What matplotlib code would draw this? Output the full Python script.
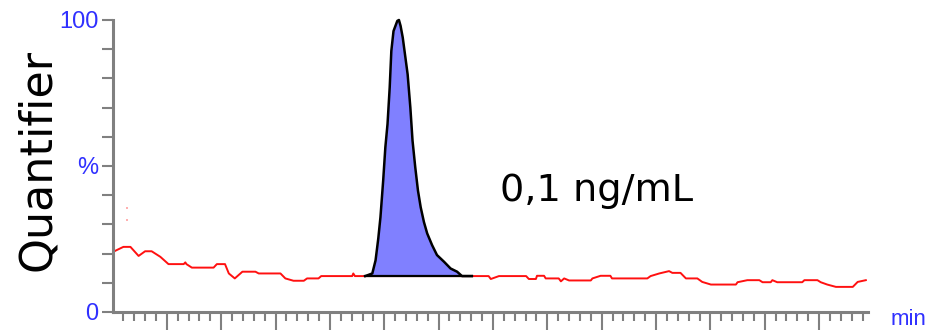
import matplotlib
matplotlib.use("Agg")
import matplotlib.pyplot as plt
import numpy as np

# ---- data (time in arbitrary minute units, intensity in %) ----
base_t = [0.00, 0.20, 0.33, 0.48, 0.60, 0.72, 0.88, 1.03, 1.31, 1.34, 1.36, 1.46,
          1.86, 1.92, 2.07, 2.14, 2.25, 2.39, 2.63, 2.69, 3.09, 3.18, 3.33, 3.52,
          3.58, 3.79, 3.84, 4.41, 4.43, 4.46, 4.65, 6.61, 6.92, 6.96, 7.11, 7.61,
          7.66, 7.79, 7.81, 7.94, 7.97, 8.21, 8.25, 8.31, 8.40, 8.80, 8.83, 8.98,
          9.16, 9.19, 9.84, 9.90, 10.06, 10.24, 10.30, 10.45, 10.55, 10.76, 10.85,
          11.01, 11.47, 11.50, 11.68, 11.90, 11.96, 12.11, 12.14, 12.23, 12.69,
          12.73, 12.97, 13.03, 13.15, 13.31, 13.62, 13.71, 13.86]
base_v = [20.5, 22.3, 22.3, 19.2, 20.8, 20.8, 18.9, 16.4, 16.4, 17.0, 16.4, 15.2,
          15.2, 16.4, 16.4, 13.2, 11.5, 13.8, 13.8, 13.2, 13.2, 11.5, 10.7, 10.7,
          11.5, 11.5, 12.3, 12.3, 13.2, 12.3, 12.3, 12.3, 12.3, 11.3, 12.3, 12.3,
          11.3, 11.3, 12.4, 12.4, 11.5, 11.5, 10.5, 11.5, 10.8, 10.8, 11.5, 12.4,
          12.4, 11.5, 11.5, 12.3, 13.2, 14.0, 13.4, 13.4, 11.5, 11.5, 10.3,
          9.4, 9.4, 10.2, 10.9, 10.9, 10.2, 10.2, 10.9, 10.2, 10.2,
          10.9, 10.9, 10.2, 9.4, 8.6, 8.6, 10.3, 10.9]

peak_t = [4.65, 4.78, 4.84, 4.89, 4.93, 4.98, 5.02, 5.06, 5.10, 5.13, 5.17, 5.24,
          5.27, 5.30, 5.34, 5.39, 5.43, 5.48, 5.52, 5.57, 5.62, 5.67, 5.73, 5.79,
          5.88, 5.97, 6.10, 6.22, 6.34, 6.43, 6.61]
peak_v = [12.3, 13.2, 17.7, 25.2, 32.5, 45.0, 56.4, 64.4, 76.9, 89.4, 96.2, 99.7,
          100.0, 98.0, 94.0, 87.0, 81.4, 70.0, 58.7, 49.6, 41.6, 35.9, 30.8, 26.9,
          22.9, 19.5, 17.2, 14.9, 13.8, 12.3, 12.3]
peak_base = 12.3

artifact_t = [0.26, 0.26]
artifact_v = [35.5, 31.4]

ytick_vals = list(range(0, 101, 10))
ytick_labels = ["0", "", "", "", "", "%", "", "", "", "", "100"]
xmajor = list(range(1, 14))
xminor = [round(0.2 * i, 1) for i in range(1, 70) if i % 5 != 0]

sample_label = "0,1 ng/mL"
ylabel = "Quantifier"
xunit = "min"

# ---- figure ----
W, H = 930, 331
fig = plt.figure(figsize=(W / 100, H / 100), dpi=100)
ax = fig.add_axes([112.5 / W, (H - 312) / H, (868 - 112.5) / W, (312 - 20) / H])

grey = "#808080"
blue = "#3030ff"

ax.plot(base_t, base_v, color="#ff1010", lw=1.4, zorder=2)
ax.plot(artifact_t, artifact_v, ls="none", marker="s", ms=1.5, color="#ffb0b0",
        mew=0, zorder=2)

ax.fill_between(peak_t, peak_v, peak_base, color="#8080ff", lw=0, zorder=3,
                clip_on=False)
ax.plot(peak_t, peak_v, color="black", lw=1.8, zorder=4, clip_on=False)
ax.plot([peak_t[0], peak_t[-1]], [peak_base, peak_base], color="black", lw=1.6,
        zorder=4)

ax.set_xlim(0, 13.9)
ax.set_ylim(0, 100)

for s in ["top", "right"]:
    ax.spines[s].set_visible(False)
for s in ["left", "bottom"]:
    ax.spines[s].set_color(grey)
    ax.spines[s].set_linewidth(2.2)

ax.set_yticks(ytick_vals)
ax.set_yticklabels(ytick_labels, color=blue, fontsize=17,
                   fontfamily="Liberation Sans")
ax.tick_params(axis="y", direction="out", length=8, width=1.5, color=grey, pad=2)

ax.set_xticks(xmajor)
ax.set_xticks(xminor, minor=True)
ax.set_xticklabels([])
ax.tick_params(axis="x", which="major", direction="out", length=13, width=1.5,
               color=grey)
ax.tick_params(axis="x", which="minor", direction="out", length=6.5, width=1.5,
               color=grey)

fig.text(38 / W, 1 - 160 / H, ylabel, rotation=90, ha="center", va="center",
         fontsize=32, fontfamily="DejaVu Sans", color="black")
fig.text(500 / W, 1 - 191 / H, sample_label, ha="left", va="center",
         fontsize=27.5, fontfamily="DejaVu Sans", color="black")
fig.text(891 / W, 1 - 325 / H, xunit, ha="left", va="baseline",
         fontsize=16, fontfamily="Liberation Sans", color=blue)

fig.savefig("out.png", dpi=100)
